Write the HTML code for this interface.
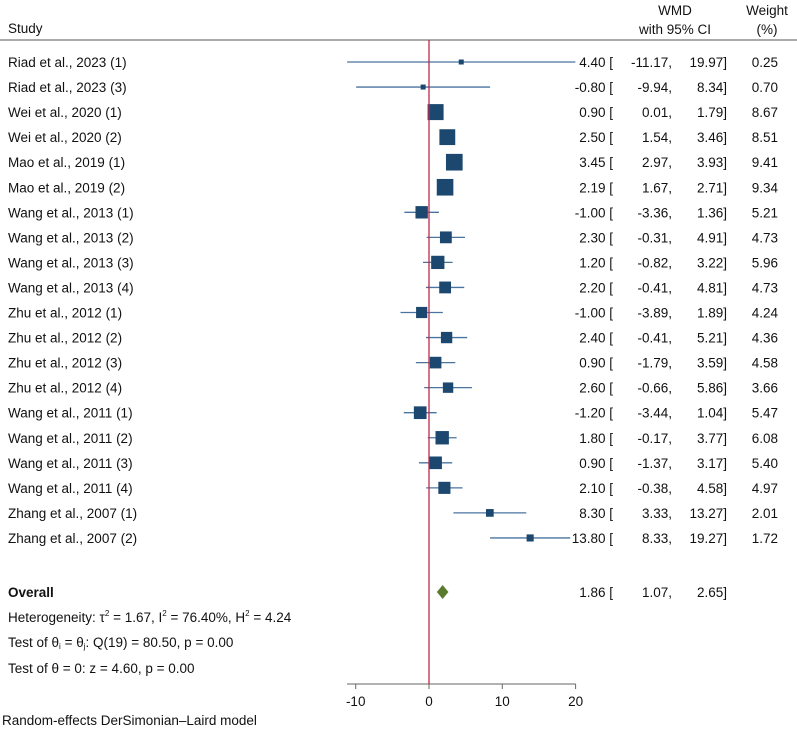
<!DOCTYPE html>
<html><head><meta charset="utf-8"><style>
body{margin:0;background:#fff}
svg text{font-family:"Liberation Sans",Arial,sans-serif;font-size:13.5px;fill:#111}
</style></head><body>
<svg id="chart" width="797" height="733" xmlns="http://www.w3.org/2000/svg">
<g>
<text x="8" y="33">Study</text>
<text x="675" y="15" text-anchor="middle">WMD</text>
<text x="675" y="34" text-anchor="middle">with 95% CI</text>
<text x="767" y="15" text-anchor="middle">Weight</text>
<text x="767" y="34" text-anchor="middle">(%)</text>
<line x1="0" y1="40" x2="797" y2="40" stroke="#555" stroke-width="1"/>
</g>
<g id="rows"></g>
<g id="axis"></g>
<g>
<text x="8" y="597" font-weight="bold">Overall</text>
<text x="8" y="622">Heterogeneity: τ<tspan dy="-6" font-size="8">2</tspan><tspan dy="6"> = 1.67, I</tspan><tspan dy="-6" font-size="8">2</tspan><tspan dy="6"> = 76.40%, H</tspan><tspan dy="-6" font-size="8">2</tspan><tspan dy="6"> = 4.24</tspan></text>
<text x="8" y="647">Test of θ<tspan font-size="8" dy="2">i</tspan><tspan dy="-2"> = θ</tspan><tspan font-size="8" dy="2">j</tspan><tspan dy="-2">: Q(19) = 80.50, p = 0.00</tspan></text>
<text x="8" y="673">Test of θ = 0: z = 4.60, p = 0.00</text>
<text x="2" y="725">Random-effects DerSimonian–Laird model</text>
</g>
</svg>
<script>
const studies=["Riad et al., 2023 (1)","Riad et al., 2023 (3)","Wei et al., 2020 (1)","Wei et al., 2020 (2)","Mao et al., 2019 (1)","Mao et al., 2019 (2)","Wang et al., 2013 (1)","Wang et al., 2013 (2)","Wang et al., 2013 (3)","Wang et al., 2013 (4)","Zhu et al., 2012 (1)","Zhu et al., 2012 (2)","Zhu et al., 2012 (3)","Zhu et al., 2012 (4)","Wang et al., 2011 (1)","Wang et al., 2011 (2)","Wang et al., 2011 (3)","Wang et al., 2011 (4)","Zhang et al., 2007 (1)","Zhang et al., 2007 (2)"];
const est=[4.40,-0.80,0.90,2.50,3.45,2.19,-1.00,2.30,1.20,2.20,-1.00,2.40,0.90,2.60,-1.20,1.80,0.90,2.10,8.30,13.80];
const lo=[-11.17,-9.94,0.01,1.54,2.97,1.67,-3.36,-0.31,-0.82,-0.41,-3.89,-0.41,-1.79,-0.66,-3.44,-0.17,-1.37,-0.38,3.33,8.33];
const hi=[19.97,8.34,1.79,3.46,3.93,2.71,1.36,4.91,3.22,4.81,1.89,5.21,3.59,5.86,1.04,3.77,3.17,4.58,13.27,19.27];
const wt=[0.25,0.70,8.67,8.51,9.41,9.34,5.21,4.73,5.96,4.73,4.24,4.36,4.58,3.66,5.47,6.08,5.40,4.97,2.01,1.72];
const overall=[1.86,1.07,2.65];
const ticks=[-10,0,10,20];
const NS="http://www.w3.org/2000/svg";
const xs=v=>429+v*7.33;
const ys=i=>62+i*25.05;
const fmt=v=>v.toFixed(2);
function mk(tag,attrs,parent,txt){const e=document.createElementNS(NS,tag);for(const k in attrs)e.setAttribute(k,attrs[k]);if(txt!==undefined)e.textContent=txt;parent.appendChild(e);return e;}
const rows=document.getElementById('rows');
const svg=document.getElementById('chart');
mk('line',{x1:xs(0),y1:40,x2:xs(0),y2:684,stroke:'#c0284a','stroke-width':1.3},svg);
studies.forEach((s,i)=>{
 const g=mk('g',{},rows);
 
 
 const y=ys(i);
 mk('text',{x:8,y:y+5},g,s);
 const l=mk('line',{x1:xs(lo[i]),y1:y,x2:xs(hi[i]),y2:y,stroke:'#4a74a0','stroke-width':1.3},g);
 
 const sz=Math.max(5,5.43*Math.sqrt(wt[i]));
 const r=mk('rect',{x:xs(est[i])-sz/2,y:y-sz/2,width:sz,height:sz,fill:'#1c4870'},g);
 
 mk('text',{x:613,y:y+5,'text-anchor':'end'},g,fmt(est[i])+' [');
 mk('text',{x:672,y:y+5,'text-anchor':'end'},g,fmt(lo[i])+',');
 mk('text',{x:727,y:y+5,'text-anchor':'end'},g,fmt(hi[i])+']');
 mk('text',{x:778,y:y+5,'text-anchor':'end'},g,fmt(wt[i]));
});
const oy=592;
const d=mk('polygon',{points:`${xs(overall[1])},${oy} ${xs(overall[0])},${oy-7} ${xs(overall[2])},${oy} ${xs(overall[0])},${oy+7}`,fill:'#5a7a2e'},svg);


mk('text',{x:613,y:oy+5,'text-anchor':'end'},svg,fmt(overall[0])+' [');
mk('text',{x:672,y:oy+5,'text-anchor':'end'},svg,fmt(overall[1])+',');
mk('text',{x:727,y:oy+5,'text-anchor':'end'},svg,fmt(overall[2])+']');
const ax=document.getElementById('axis');


mk('line',{x1:347,y1:684,x2:xs(20),y2:684,stroke:'#666','stroke-width':1},ax);
ticks.forEach(t=>{
 const tl=mk('line',{x1:xs(t),y1:684,x2:xs(t),y2:689,stroke:'#666'},ax);
 
 const tt=mk('text',{x:xs(t),y:706,'text-anchor':'middle'},ax,String(t));
 
});
</script>
</body></html>
